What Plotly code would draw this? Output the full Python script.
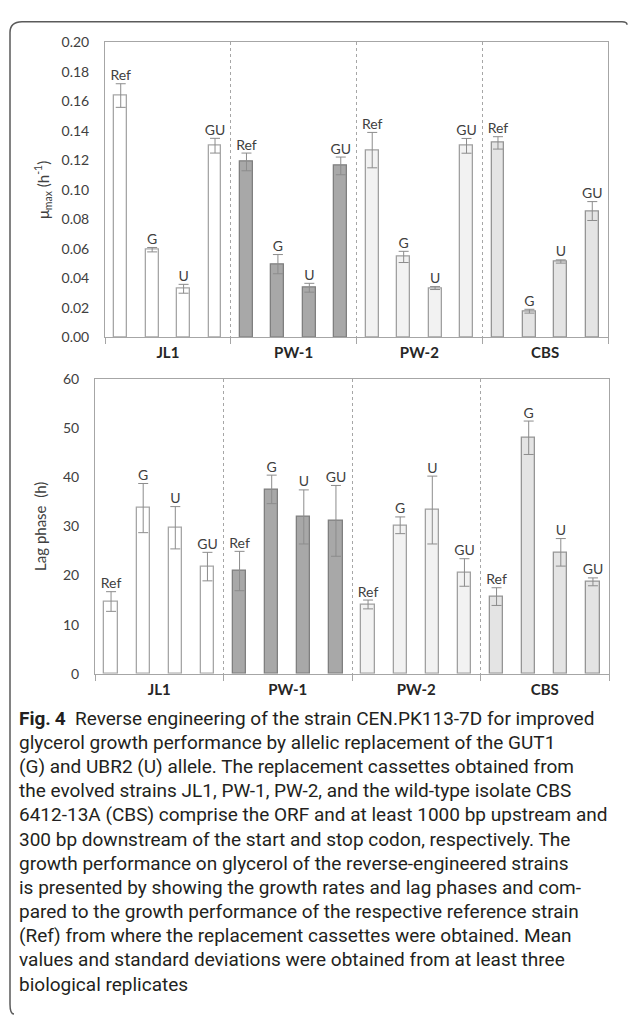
import plotly.graph_objects as go

W, H = 629, 1025

groups = ["JL1", "PW-1", "PW-2", "CBS"]
variants = ["Ref", "G", "U", "GU"]

# growth rate mu_max (h-1): mean and SD per group (Ref, G, U, GU)
mu_jl1 = [0.164, 0.0595, 0.033, 0.130]
mu_jl1_sd = [0.008, 0.0015, 0.003, 0.005]
mu_pw1 = [0.119, 0.0497, 0.0337, 0.1163]
mu_pw1_sd = [0.006, 0.0065, 0.003, 0.006]
mu_pw2 = [0.127, 0.0546, 0.0335, 0.1299]
mu_pw2_sd = [0.012, 0.0038, 0.001, 0.005]
mu_cbs = [0.1319, 0.0178, 0.0515, 0.0857]
mu_cbs_sd = [0.0042, 0.0013, 0.0011, 0.0064]

# lag phase (h): mean and SD per group (Ref, G, U, GU)
lag_jl1 = [14.7, 33.7, 29.7, 21.8]
lag_jl1_sd = [2.0, 5.0, 4.3, 2.9]
lag_pw1 = [20.9, 37.5, 31.9, 31.1]
lag_pw1_sd = [4.0, 2.9, 5.5, 7.2]
lag_pw2 = [14.1, 30.2, 33.3, 20.6]
lag_pw2_sd = [0.9, 1.7, 6.9, 2.8]
lag_cbs = [15.7, 48.0, 24.7, 18.7]
lag_cbs_sd = [1.8, 3.4, 2.8, 0.8]

mu_means = [mu_jl1, mu_pw1, mu_pw2, mu_cbs]
mu_sds = [mu_jl1_sd, mu_pw1_sd, mu_pw2_sd, mu_cbs_sd]
lag_means = [lag_jl1, lag_pw1, lag_pw2, lag_cbs]
lag_sds = [lag_jl1_sd, lag_pw1_sd, lag_pw2_sd, lag_cbs_sd]

caption_lines = [
    "<b>Fig.\u20094</b>\u00a0\u00a0Reverse engineering of the strain CEN.PK113-7D for improved",
    "glycerol growth performance by allelic replacement of the GUT1",
    "(G) and UBR2 (U) allele. The replacement cassettes obtained from",
    "the evolved strains JL1, PW-1, PW-2, and the wild-type isolate CBS",
    "6412-13A (CBS) comprise the ORF and at least 1000 bp upstream and",
    "300 bp downstream of the start and stop codon, respectively. The",
    "growth performance on glycerol of the reverse-engineered strains",
    "is presented by showing the growth rates and lag phases and com-",
    "pared to the growth performance of the respective reference strain",
    "(Ref) from where the replacement cassettes were obtained. Mean",
    "values and standard deviations were obtained from at least three",
    "biological replicates",
]

fills = ["#ffffff", "#a8a8a8", "#f2f2f2", "#e4e4e4"]
outlines = ["#a6a6a6", "#7f7f7f", "#a0a0a0", "#959595"]
ERR_COL = "#8c8c8c"
TXT = "#404040"
FONT = "Lato, Open Sans, sans-serif"

fig = go.Figure()

def add_panel(means, sds, xa, ya):
    for g, (vals, errs) in enumerate(zip(means, sds)):
        xs = [4 * g + i + 0.5 for i in range(len(vals))]
        fig.add_trace(go.Bar(
            x=xs, y=vals, width=0.41, xaxis=xa, yaxis=ya,
            marker=dict(color=fills[g], line=dict(color=outlines[g], width=1.3)),
            error_y=dict(type="data", array=errs, visible=True, color=ERR_COL,
                         thickness=1, width=5),
            showlegend=False, hoverinfo="skip",
        ))
        fig.add_trace(go.Scatter(
            x=xs, y=[v + e for v, e in zip(vals, errs)], mode="text",
            text=variants, textposition="top center", xaxis=xa, yaxis=ya,
            textfont=dict(family=FONT, size=14, color=TXT),
            showlegend=False, hoverinfo="skip", cliponaxis=False,
        ))

add_panel(mu_means, mu_sds, "x", "y")
add_panel(lag_means, lag_sds, "x2", "y2")

def xaxis_cfg(dom):
    return dict(
        domain=dom, range=[0, 16], showline=True, linecolor="#a6a6a6", linewidth=1,
        mirror=True, showgrid=False, zeroline=False, fixedrange=True,
        tickmode="array", tickvals=[2, 6, 10, 14], ticktext=groups, ticks="",
        tickfont=dict(family=FONT, size=15, color="#262626", weight="bold"),
        ticklabelstandoff=2,
        minor=dict(tickmode="array", tickvals=[0, 4, 8, 12, 16], ticks="outside",
                   ticklen=6, tickcolor="#a6a6a6", showgrid=True,
                   gridcolor="#a6a6a6", griddash="dot", gridwidth=1),
    )

def yaxis_cfg(dom, rng, dtick, fmt, title, standoff):
    return dict(
        domain=dom, range=rng, dtick=dtick, tickformat=fmt,
        showline=True, linecolor="#a6a6a6", linewidth=1, mirror=True,
        showgrid=False, zeroline=False, ticks="", fixedrange=True,
        tickfont=dict(family=FONT, size=14, color=TXT), ticklabelstandoff=12,
        title=dict(text=title, font=dict(family=FONT, size=15, color=TXT), standoff=standoff),
    )

top_y = [(H - 334) / H, (H - 34) / H]
bot_y = [(H - 676) / H, (H - 376) / H]

fig.update_layout(
    width=W, height=H, margin=dict(l=0, r=0, t=0, b=0),
    paper_bgcolor="white", plot_bgcolor="white", bargap=0,
    xaxis=xaxis_cfg([105 / W, 608 / W]),
    yaxis=yaxis_cfg(top_y, [0, 0.2], 0.02, ".2f", "\u03bc<sub>max</sub> (h<sup>-1</sup>)", 8),
    xaxis2=dict(xaxis_cfg([95 / W, 609 / W]), anchor="y2"),
    yaxis2=dict(yaxis_cfg(bot_y, [0, 60], 10, "d", "Lag phase\u00a0 (h)", 12), anchor="x2"),
)
fig.layout.xaxis.anchor = "y"
fig.layout.yaxis.anchor = "x"

# caption text lines
cap_top, cap_step = 721, 24.6
for i, line in enumerate(caption_lines):
    fig.add_annotation(
        x=17 / W, y=1 - (cap_top + i * cap_step) / H, xref="paper", yref="paper",
        xanchor="left", yanchor="middle", showarrow=False, text=line, align="left",
        font=dict(family="Liberation Sans Narrow, Roboto, sans-serif", size=19, color="#231f20"),
    )

# rounded frame (left and top edges)
def px(x):
    return x / W

def py(y):
    return 1 - y / H

frame = (f"M {px(10)},{py(1012)} Q {px(10)},{py(1022)} {px(14)},{py(1022)} "
         f"M {px(10)},{py(1012)} L {px(10)},{py(24)} Q {px(10)},{py(13)} {px(22)},{py(13)} "
         f"L {px(622)},{py(13)} Q {px(627)},{py(13)} {px(627)},{py(16)}")
fig.add_shape(type="path", path=frame, xref="paper", yref="paper",
              line=dict(color="#5a5a5a", width=1.5))

fig.write_html("out.html")
